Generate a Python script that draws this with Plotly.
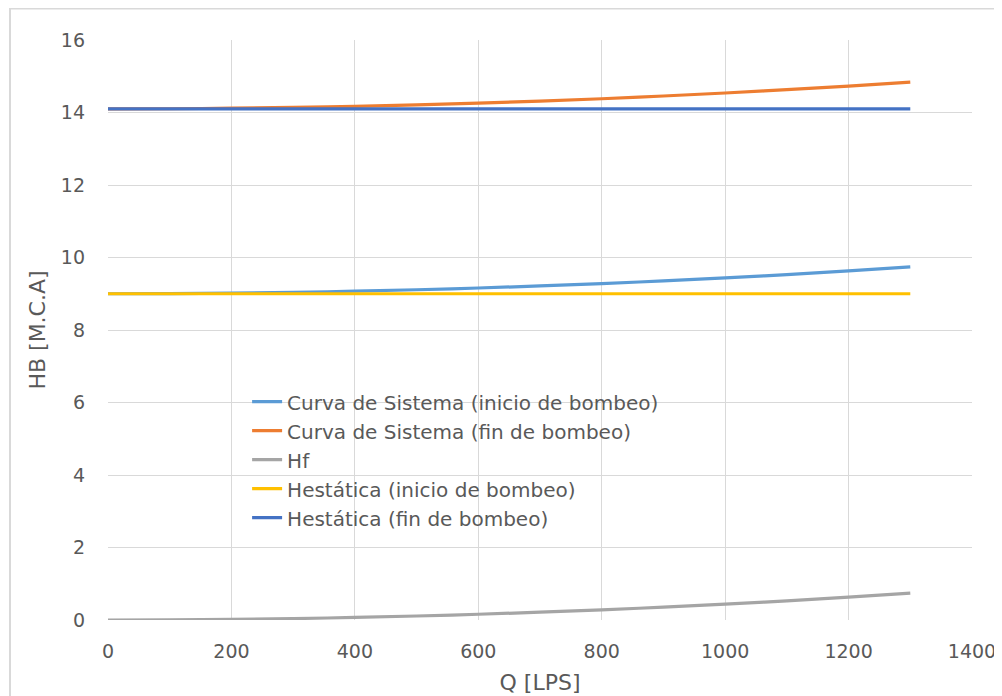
import plotly.graph_objects as go

q = [0, 100, 200, 300, 400, 500, 600, 700, 800, 900, 1000, 1100, 1200, 1300]
hf = [0.0, 0.004, 0.018, 0.039, 0.070, 0.110, 0.158, 0.215, 0.280, 0.355, 0.438, 0.530, 0.630, 0.740]
curva_inicio = [9.0, 9.004, 9.018, 9.039, 9.070, 9.110, 9.158, 9.215, 9.280, 9.355, 9.438, 9.530, 9.630, 9.740]
curva_fin = [14.1, 14.104, 14.118, 14.139, 14.170, 14.210, 14.258, 14.315, 14.380, 14.455, 14.538, 14.630, 14.730, 14.840]
hest_inicio = [9.0] * 14
hest_fin = [14.1] * 14

names = ["Curva de Sistema (inicio de bombeo)", "Curva de Sistema (fin de bombeo)", "Hf",
         "Hestática (inicio de bombeo)", "Hestática (fin de bombeo)"]
colors = ["#5B9BD5", "#ED7D31", "#A5A5A5", "#FFC000", "#4472C4"]
series = [curva_inicio, curva_fin, hf, hest_inicio, hest_fin]

fig = go.Figure()
for n, c, s in zip(names, colors, series):
    fig.add_trace(go.Scatter(x=q, y=s, name=n, mode="lines",
                             line=dict(color=c, width=3.2, shape="spline")))

font = "DejaVu Sans, sans-serif"
axis_common = dict(showgrid=True, gridcolor="#D9D9D9", gridwidth=1, zeroline=False,
                   tickfont=dict(family=font, size=19, color="#595959"),
                   showline=False, ticks="", automargin=False)
# page body has an 8px margin, so the figure is 8px smaller than the window
W, H = 994, 688
L, R, T, B = 100, 30, 32, 76
pw, ph = W - L - R, H - T - B
fig.update_layout(
    width=W, height=H,
    margin=dict(l=L, r=R, t=T, b=B, autoexpand=False),
    paper_bgcolor="white", plot_bgcolor="white",
    font=dict(family=font, color="#595959"),
    xaxis=dict(range=[0, 1400], dtick=200,
               title=dict(text="Q [LPS]", font=dict(family=font, size=22, color="#595959"), standoff=13),
               ticklabelstandoff=18, **axis_common),
    yaxis=dict(range=[0, 16], dtick=2,
               title=dict(text="HB [M.C.A]", font=dict(family=font, size=22, color="#595959"), standoff=9),
               ticklabelstandoff=22, **axis_common),
    legend=dict(x=0.161, y=0.41, xanchor="left", yanchor="top",
                bgcolor="rgba(0,0,0,0)", tracegroupgap=0,
                font=dict(family=font, size=20, color="#595959"),
                itemwidth=30),
    showlegend=True,
)
# outer chart border (left and top edges visible)
fig.add_shape(type="rect", xref="paper", yref="paper",
              x0=(2 - L) / pw, x1=(1010 - L) / pw,
              y0=(ph + T - 720) / ph, y1=(ph + T - 0.5) / ph,
              line=dict(color="#D9D9D9", width=2), fillcolor="rgba(0,0,0,0)", layer="below")
fig.write_html("out.html")
